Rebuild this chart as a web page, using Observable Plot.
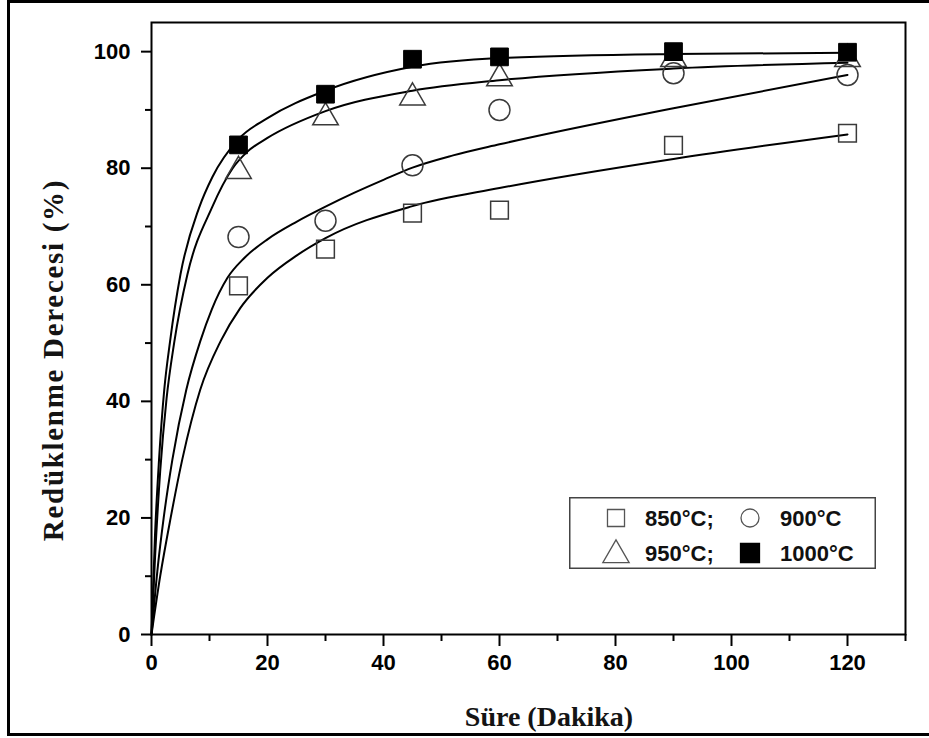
<!DOCTYPE html>
<html>
<head>
<meta charset="utf-8">
<script src="https://cdn.jsdelivr.net/npm/d3@7"></script>
<script src="https://cdn.jsdelivr.net/npm/@observablehq/plot@0.6"></script>
<style>
  html, body { margin: 0; padding: 0; background: #fff; overflow: hidden; }
  #wrap { position: relative; width: 929px; height: 738px; }
  #chart { position: absolute; left: 0; top: 0; }
  #border { position: absolute; left: 7px; top: 0px; width: 940px; height: 736px;
            border-left: 3px solid #000; border-top: 3px solid #000; border-bottom: 3px solid #000; box-sizing: border-box; }
  .title { position: absolute; font-family: "Liberation Serif", "Times New Roman", serif; font-weight: bold;
           font-size: 28px; color: #141414; white-space: nowrap; }
  #xtitle { left: 549px; top: 717px; transform: translate(-50%, -50%); }
  #ytitle { left: 53px; top: 360px; transform: translate(-50%, -50%) rotate(-90deg); font-size: 29px; letter-spacing: 1.7px; }
  #legend { position: absolute; left: 569px; top: 497px; }
</style>
</head>
<body>
<div id="wrap">
  <div id="chart"></div>
  <div id="border"></div>
  <div id="xtitle" class="title">Süre (Dakika)</div>
  <div id="ytitle" class="title">Redüklenme Derecesi (%)</div>
  <div id="legend"></div>
</div>
<script>
// ---- data ----
const times = [15, 30, 45, 60, 90, 120];
const deg850 = [59.8, 66.1, 72.3, 72.8, 83.9, 86.0];
const deg900 = [68.2, 71.0, 80.5, 90.0, 96.3, 96.0];
const deg950 = [80.2, 89.4, 92.8, 96.1, 99.4, 99.4];
const deg1000 = [84.0, 92.7, 98.7, 99.1, 100.0, 99.9];

// fitted curves
const fit850X = [0, 1.5, 3.3, 5.3, 8.4, 11.9, 15.3, 20, 25, 30, 45, 60, 90, 120];
const fit850Y = [0, 10, 20, 30, 42, 50.3, 56, 61.2, 65, 68, 73.5, 76.6, 81.6, 85.8];
const fit900X = [0, 1.0, 2.1, 3.6, 6.0, 8.4, 10.4, 13.1, 16, 20, 25, 30, 35, 40, 45, 52, 60, 90, 120];
const fit900Y = [0, 10.8, 20, 30, 42, 50.3, 55.8, 61.2, 64.6, 67.8, 70.8, 73.4, 75.8, 78.0, 80.1, 82.2, 84.1, 90.3, 96.0];
const fit950X = [0, 0.6, 1.5, 2.6, 3.9, 6.2, 10.4, 14, 16.5, 20, 30, 45, 60, 90, 120];
const fit950Y = [0, 13, 28, 40.5, 50, 61.8, 73.2, 80, 82.8, 85.2, 89.8, 93.3, 95.1, 97.1, 98.1];
const fit1000X = [0, 0.6, 1.3, 2.2, 3.2, 5.0, 8.2, 10.5, 15, 20, 30, 45, 60, 90, 120];
const fit1000Y = [0, 17, 30, 42, 50.3, 61.8, 73.2, 78.5, 85.0, 88.6, 93.3, 97.4, 98.9, 99.6, 99.8];

const seriesNames = ["850°C;", "900°C", "950°C;", "1000°C"];

const xMajorTicks = [0, 20, 40, 60, 80, 100, 120];
const xMinorTicks = [10, 30, 50, 70, 90, 110, 130];
const yMajorTicks = [0, 20, 40, 60, 80, 100];
const yMinorTicks = [10, 30, 50, 70, 90];
const xDomain = [0, 130];
const yDomain = [0, 105];

// ---- build tables ----
const pts = (ys) => times.map((t, i) => ({x: t, y: ys[i]}));
const crv = (xs, ys) => xs.map((x, i) => ({x, y: ys[i]}));

const openStroke = "#3a3a3a";
const tickFont = {fontSize: 22, fontWeight: "bold", fontFamily: "'Liberation Sans', Arial, sans-serif"};
const lineStyle = {x: "x", y: "y", curve: "monotone-x", stroke: "#000", strokeWidth: 2};

const chart = Plot.plot({
  width: 929,
  height: 738,
  marginLeft: 151,
  marginTop: 22,
  marginRight: 24,
  marginBottom: 104,
  style: {background: "transparent", color: "#000", fontFamily: "'Liberation Sans', Arial, sans-serif"},
  x: {domain: xDomain},
  y: {domain: yDomain},
  marks: [
    Plot.axisX(xMajorTicks, {tickSize: 12, tickPadding: 8, label: null, strokeWidth: 2, ...tickFont}),
    Plot.axisX(xMinorTicks, {tickSize: 7, tickFormat: () => "", label: null, strokeWidth: 2}),
    Plot.axisY(yMajorTicks, {tickSize: 10, tickPadding: 11, label: null, strokeWidth: 2, ...tickFont}),
    Plot.axisY(yMinorTicks, {tickSize: 6, tickFormat: () => "", label: null, strokeWidth: 2}),
    Plot.line(crv(fit850X, fit850Y), lineStyle),
    Plot.line(crv(fit900X, fit900Y), lineStyle),
    Plot.line(crv(fit950X, fit950Y), lineStyle),
    Plot.line(crv(fit1000X, fit1000Y), lineStyle),
    Plot.dot(pts(deg850), {x: "x", y: "y", symbol: "square", r: 10, fill: "none", stroke: openStroke, strokeWidth: 1.5}),
    Plot.dot(pts(deg900), {x: "x", y: "y", symbol: "circle", r: 10.5, fill: "none", stroke: openStroke, strokeWidth: 1.5}),
    Plot.dot(pts(deg950), {x: "x", y: "y", symbol: "triangle", r: 9.5, dy: 4, fill: "none", stroke: openStroke, strokeWidth: 1.5}),
    Plot.dot(pts(deg1000), {x: "x", y: "y", symbol: "square", r: 10, fill: "#000", stroke: "#000", strokeWidth: 1}),
    Plot.frame({stroke: "#000", strokeWidth: 2})
  ]
});
document.getElementById("chart").appendChild(chart);

// ---- legend ----
const legendSymbols = ["square", "circle", "triangle", "squareFilled"];
const lw = 307, lh = 72;
const leg = d3.select("#legend").append("svg").attr("width", lw).attr("height", lh);
leg.append("rect").attr("x", 0.75).attr("y", 0.75).attr("width", lw - 1.5).attr("height", lh - 1.5)
  .attr("fill", "#fff").attr("stroke", "#444").attr("stroke-width", 1.5);
const symMap = {square: d3.symbolSquare, circle: d3.symbolCircle, triangle: d3.symbolTriangle, squareFilled: d3.symbolSquare};
const symSize = {square: 290, circle: 255, triangle: 300, squareFilled: 360};
const cols = [47, 181];
const textCols = [76, 211];
const rows = [21, 56];
seriesNames.forEach((name, i) => {
  const r = Math.floor(i / 2), c = i % 2;
  const s = legendSymbols[i];
  const filled = s === "squareFilled";
  leg.append("path")
    .attr("d", d3.symbol(symMap[s], symSize[s])())
    .attr("transform", `translate(${cols[c]},${rows[r] + (s === "triangle" ? 2 : 0)})`)
    .attr("fill", filled ? "#000" : "none")
    .attr("stroke", filled ? "#000" : "#555")
    .attr("stroke-width", 1.3);
  leg.append("text")
    .attr("x", textCols[c]).attr("y", rows[r]).attr("dy", "0.36em")
    .attr("font-family", "'Liberation Sans', Arial, sans-serif")
    .attr("font-weight", "bold").attr("font-size", 22)
    .attr("fill", "#111")
    .text(name);
});
</script>
</body>
</html>
